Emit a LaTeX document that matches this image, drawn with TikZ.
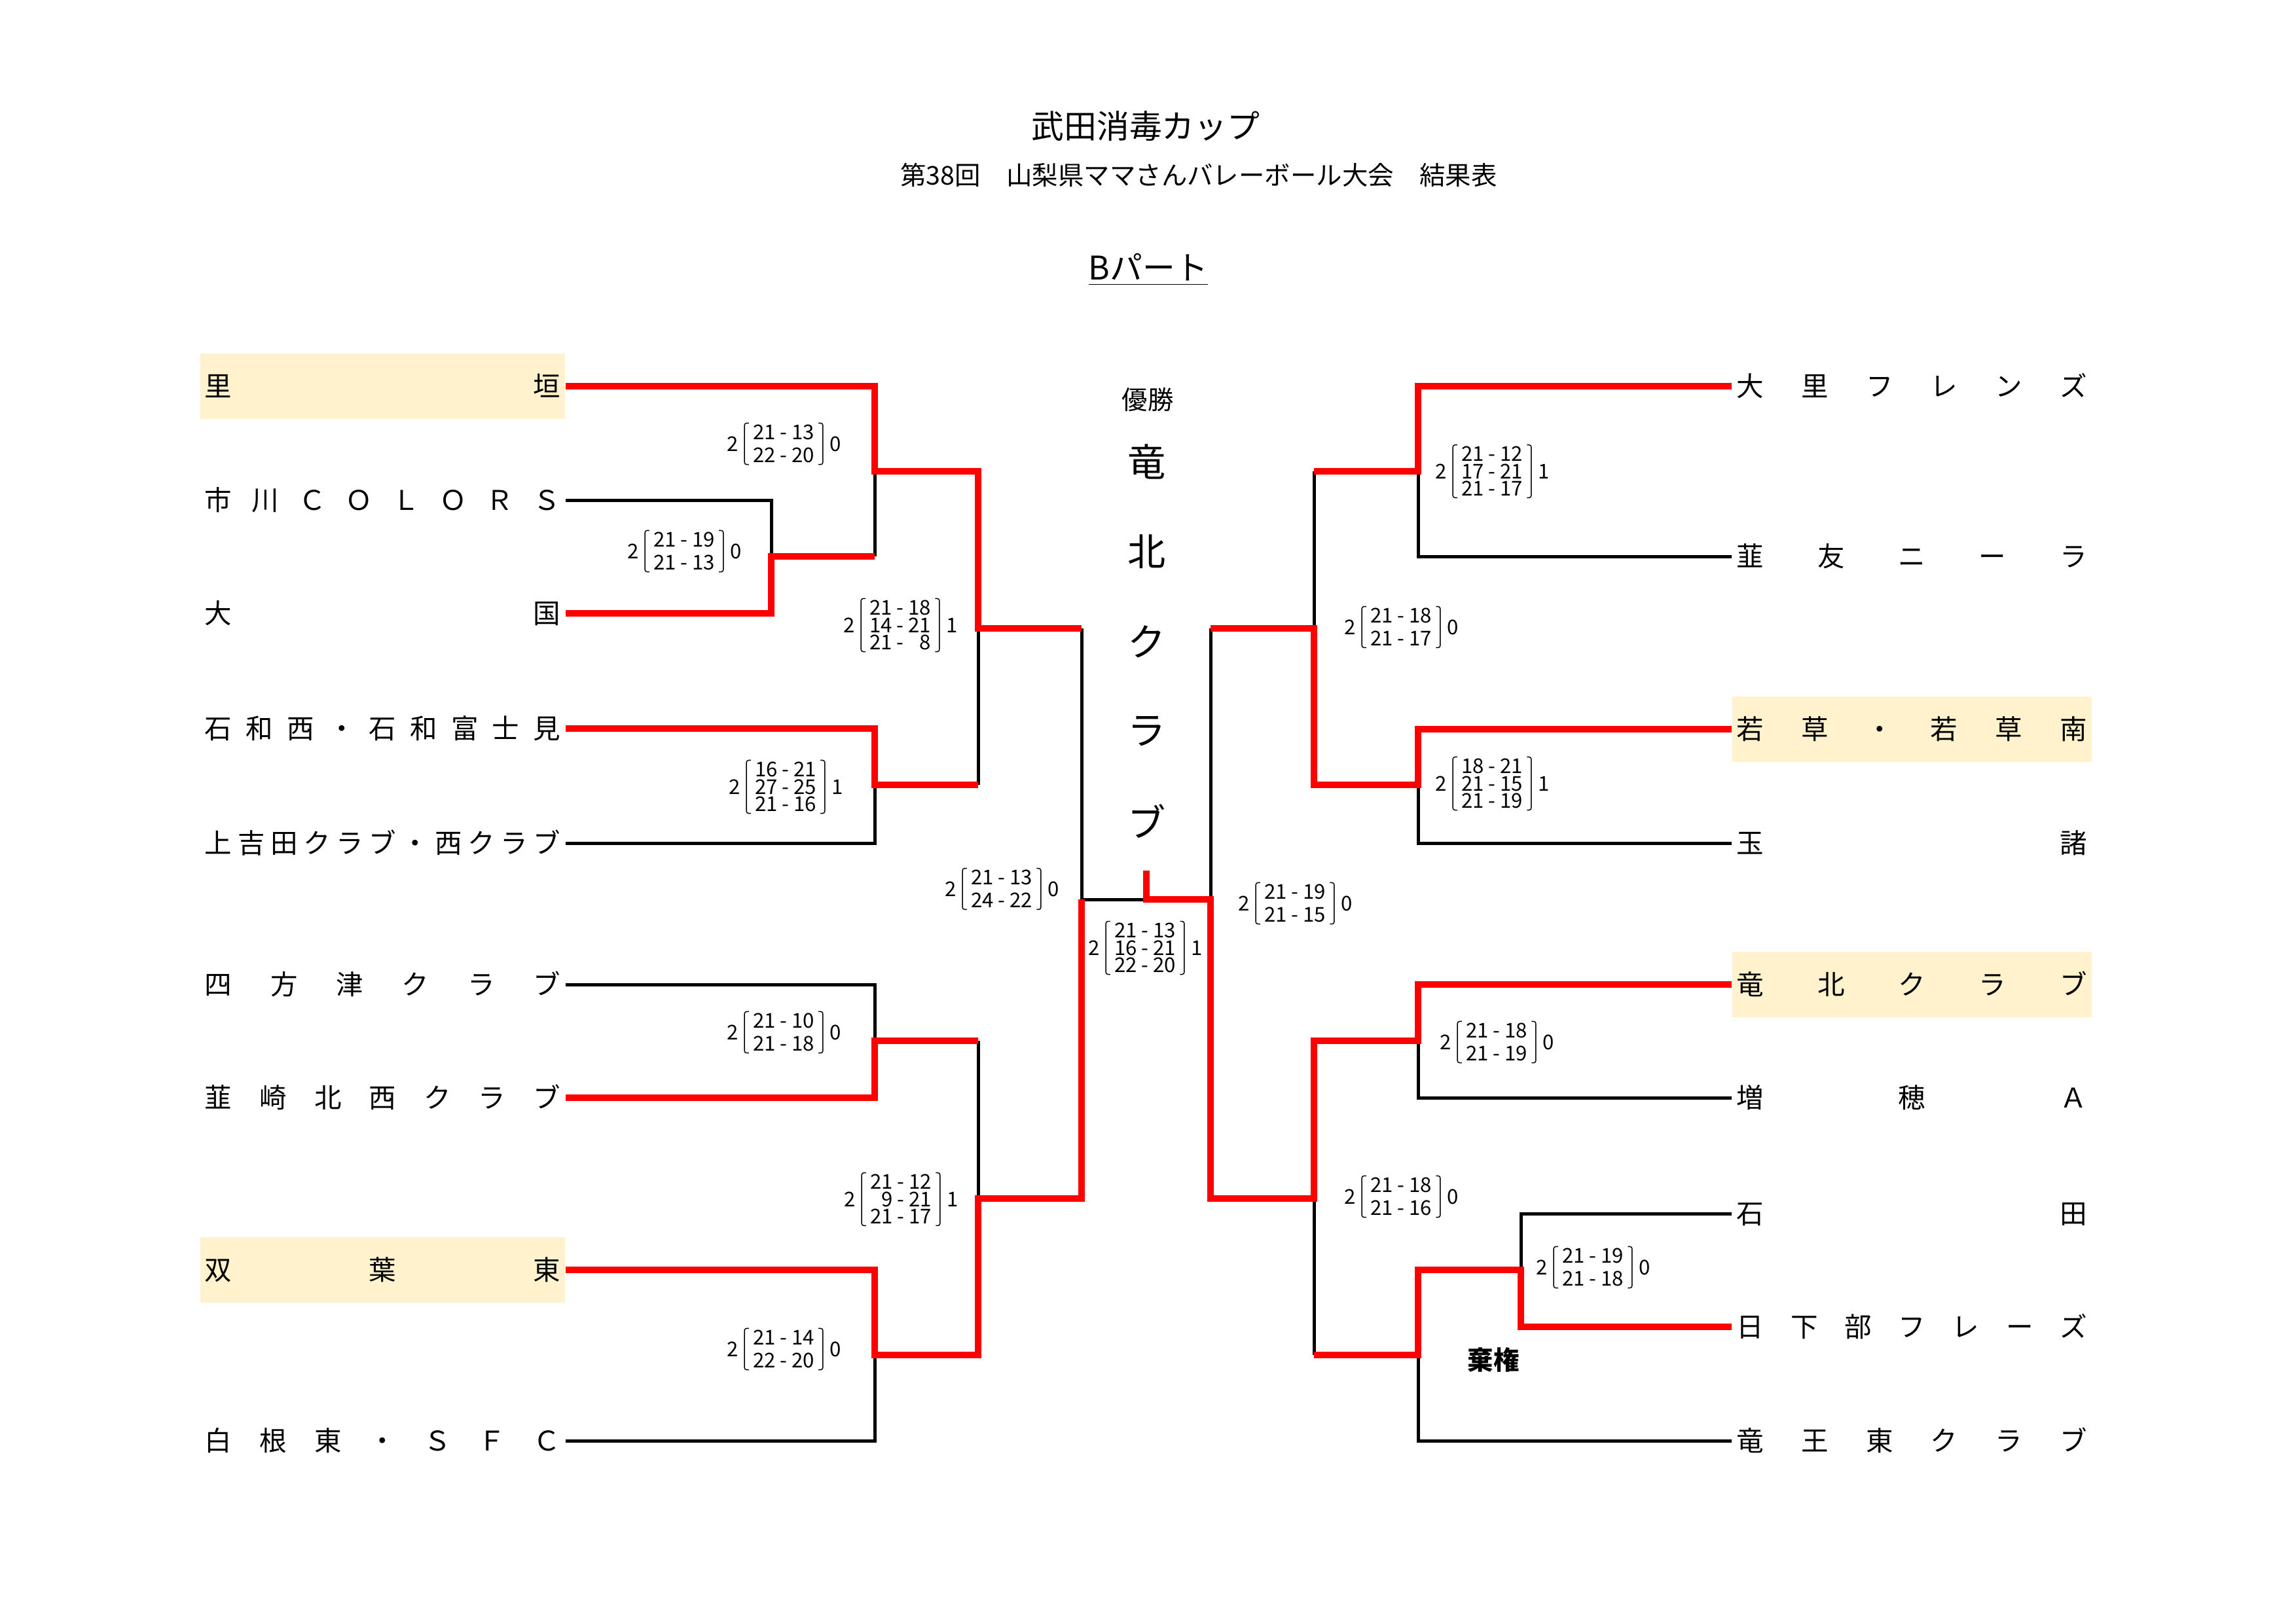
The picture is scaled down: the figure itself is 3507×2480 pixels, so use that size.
\documentclass[tikz,border=0pt]{standalone}
\usepackage{fontspec}
\setmainfont{Noto Sans CJK JP}
\newfontfamily\scorefont{Noto Sans CJK JP}
\usetikzlibrary{positioning}
\definecolor{bred}{RGB}{255,0,0}
\definecolor{hl}{RGB}{255,242,204}
\lineskiplimit=-5pt
\tikzset{
  win/.style={bred, line width=2.6pt},
  lose/.style={black, line width=1.2pt},
  team/.style={inner xsep=0.6mm, inner ysep=0pt, minimum height=8.47mm,
    text height=8.3pt, text depth=0.7pt, font=\fontsize{10}{12}\selectfont},
  lteam/.style={team, anchor=east},
  rteam/.style={team, anchor=west},
  seed/.style={fill=hl},
  sc/.style={inner xsep=0pt, inner ysep=0.4pt, minimum width=10mm, align=center,
    font=\scorefont\fontsize{7.5}{8.5}\selectfont},
  scthree/.style={sc, font=\scorefont\fontsize{7.5}{6.4}\selectfont},
  scnum/.style={inner sep=0pt, font=\scorefont\fontsize{7.5}{9}\selectfont},
  brk/.style={line width=0.35pt, rounded corners=0.8pt},
  champ/.style={inner sep=0pt, font=\fontsize{14}{16}\selectfont}
}
\newcommand{\lname}[1]{\makebox[46mm][s]{#1}}
\newcommand{\rname}[1]{\makebox[45.3mm][s]{#1}}
% score block: [style]{name}{position}{rows}{left}{right}
\newcommand{\matchscore}[6][sc]{%
  \node[#1] (#2) at (#3) {#4};
  \node[scnum, left=0.7mm of #2] (#2l) {#5};
  \node[scnum, right=0.8mm of #2] (#2r) {#6};
  \draw[brk] ([xshift=1.6pt]#2.north west) -- (#2.north west) -- (#2.south west) -- ([xshift=1.6pt]#2.south west);
  \draw[brk] ([xshift=-1.6pt]#2.north east) -- (#2.north east) -- (#2.south east) -- ([xshift=-1.6pt]#2.south east);
}

\begin{document}
\begin{tikzpicture}[x=0.08468mm, y=-0.08468mm]
	\useasboundingbox (0,0) rectangle (3507,2480);
	% heading
	\node[font=\fontsize{12}{14}\selectfont] (title) at (1750,193) {武田消毒カップ};
	\node[font=\fontsize{9.5}{12}\selectfont] (subtitle) at (1831,267) {第38回　山梨県ママさんバレーボール大会　結果表};
	\node[font=\fontsize{12}{14}\selectfont] (part) at (1754,412) {\underline{Bパート}};
	% left teams
	\node[lteam, seed] (L1) at (864,590) {\lname{里\hfill 垣}};
	\node[lteam] (L2) at (864,764) {\lname{市\hfill 川\hfill Ｃ\hfill Ｏ\hfill Ｌ\hfill Ｏ\hfill Ｒ\hfill Ｓ}};
	\node[lteam] (L3) at (864,937) {\lname{大\hfill 国}};
	\node[lteam] (L4) at (864,1113) {\lname{石\hfill 和\hfill 西\hfill ・\hfill 石\hfill 和\hfill 富\hfill 士\hfill 見}};
	\node[lteam] (L5) at (864,1288) {\lname{上\hfill 吉\hfill 田\hfill ク\hfill ラ\hfill ブ\hfill ・\hfill 西\hfill ク\hfill ラ\hfill ブ}};
	\node[lteam] (L6) at (864,1504) {\lname{四\hfill 方\hfill 津\hfill ク\hfill ラ\hfill ブ}};
	\node[lteam] (L7) at (864,1677) {\lname{韮\hfill 崎\hfill 北\hfill 西\hfill ク\hfill ラ\hfill ブ}};
	\node[lteam, seed] (L8) at (864,1940) {\lname{双\hfill 葉\hfill 東}};
	\node[lteam] (L9) at (864,2201) {\lname{白\hfill 根\hfill 東\hfill ・\hfill Ｓ\hfill Ｆ\hfill Ｃ}};
	% right teams
	\node[rteam] (R1) at (2645,590) {\rname{大\hfill 里\hfill フ\hfill レ\hfill ン\hfill ズ}};
	\node[rteam] (R2) at (2645,850) {\rname{韮\hfill 友\hfill ニ\hfill ー\hfill ラ}};
	\node[rteam, seed] (R3) at (2645,1114) {\rname{若\hfill 草\hfill ・\hfill 若\hfill 草\hfill 南}};
	\node[rteam] (R4) at (2645,1288) {\rname{玉\hfill 諸}};
	\node[rteam, seed] (R5) at (2645,1504) {\rname{竜\hfill 北\hfill ク\hfill ラ\hfill ブ}};
	\node[rteam] (R6) at (2645,1677) {\rname{増\hfill 穂\hfill Ａ}};
	\node[rteam] (R7) at (2645,1854) {\rname{石\hfill 田}};
	\node[rteam] (R8) at (2645,2027) {\rname{日\hfill 下\hfill 部\hfill フ\hfill レ\hfill ー\hfill ズ}};
	\node[rteam] (R9) at (2645,2201) {\rname{竜\hfill 王\hfill 東\hfill ク\hfill ラ\hfill ブ}};
	% champion
	\node[font=\fontsize{9.5}{11}\selectfont] (champlabel) at (1753,611) {優勝};
	\foreach \c [count=\i] in {竜,北,ク,ラ,ブ}
		\node[champ] (w\i) at (1752,{705+137.5*(\i-1)}) {\c};
	% joints
	\coordinate (pA) at (1178,850);
	\coordinate (pB) at (1336,720);
	\coordinate (pC) at (1336,1199);
	\coordinate (pD) at (1494,960);
	\coordinate (pE) at (1336,1590);
	\coordinate (pF) at (1336,2070);
	\coordinate (pG) at (1494,1831);
	\coordinate (pH) at (1652,1374);
	\coordinate (top) at (1751,1330);
	\coordinate (pI) at (1751,1374);
	\coordinate (qA) at (2323,1940);
	\coordinate (qB) at (2166,720);
	\coordinate (qC) at (2166,1199);
	\coordinate (qD) at (2007,960);
	\coordinate (qE) at (2166,1590);
	\coordinate (qF) at (2166,2070);
	\coordinate (qG) at (2007,1831);
	\coordinate (qH) at (1849,1374);
	% lost
	\draw[lose] (L2.east) -| (pA);
	\draw[lose] (pB) -- (pA -| pB);
	\draw[lose] (L5.east) -| (pC);
	\draw[lose] (pD) -- (pC -| pD);
	\draw[lose] (pD -| pH) -- (pH) -- (pI);
	\draw[lose] (L6.east) -| (pE);
	\draw[lose] (pE -| pG) -- (pG);
	\draw[lose] (L9.east) -| (pF);
	\draw[lose] (qD -| qH) -- (qH);
	\draw[lose] (R2.west) -| (qB);
	\draw[lose] (qB -| qD) -- (qD);
	\draw[lose] (R4.west) -| (qC);
	\draw[lose] (R6.west) -| (qE);
	\draw[lose] (qG) -- (qG |- qF);
	\draw[lose] (R7.west) -| (qA);
	\draw[lose] (R9.west) -| (qF);
	% won
	\draw[win] (L1.east) -| (pB) -| (pD) -- (pD -| pH);
	\draw[win] (L3.east) -| (pA) -- (pA -| pB);
	\draw[win] (L4.east) -| (pC) -- (pC -| pD);
	\draw[win] (L7.east) -| (pE) -- (pE -| pG);
	\draw[win] (L8.east) -| (pF) -| (pG) -| (pH);
	\draw[win] (top) -- (pI) -- (qH) |- (qG) |- (qE) |- (R5.west);
	\draw[win] (R1.west) -| (qB) -- (qB -| qD);
	\draw[win] (R3.west) -| (qC) -| (qD) -- (qD -| qH);
	\draw[win] (R8.west) -| (qA) -| (qF) -- (qF -| qG);
	% scores
	\matchscore{sA}{1197,678}{21 - 13\\22 - 20}{2}{0}
	\matchscore{sB}{1045,842}{21 - 19\\21 - 13}{2}{0}
	\matchscore[scthree]{sC}{1375,955}{21 - 18\\14 - 21\\21 - \phantom{0}8}{2}{1}
	\matchscore[scthree]{sD}{1200,1202}{16 - 21\\27 - 25\\21 - 16}{2}{1}
	\matchscore{sE}{1530,1358}{21 - 13\\24 - 22}{2}{0}
	\matchscore{sF}{1197,1577}{21 - 10\\21 - 18}{2}{0}
	\matchscore[scthree]{sG}{1376,1832}{21 - 12\\\phantom{0}9 - 21\\21 - 17}{2}{1}
	\matchscore{sH}{1197,2061}{21 - 14\\22 - 20}{2}{0}
	\matchscore[scthree]{sFin}{1749,1448}{21 - 13\\16 - 21\\22 - 20}{2}{1}
	\matchscore{sI}{1978,1380}{21 - 19\\21 - 15}{2}{0}
	\matchscore[scthree]{sJ}{2279,720}{21 - 12\\17 - 21\\21 - 17}{2}{1}
	\matchscore{sK}{2140,958}{21 - 18\\21 - 17}{2}{0}
	\matchscore[scthree]{sL}{2279,1197}{18 - 21\\21 - 15\\21 - 19}{2}{1}
	\matchscore{sM}{2286,1592}{21 - 18\\21 - 19}{2}{0}
	\matchscore{sN}{2140,1828}{21 - 18\\21 - 16}{2}{0}
	\matchscore{sO}{2433,1936}{21 - 19\\21 - 18}{2}{0}
	\node[font=\bfseries\fontsize{9.5}{11}\selectfont] (forfeit) at (2281,2077) {棄権};
\end{tikzpicture}
\end{document}
